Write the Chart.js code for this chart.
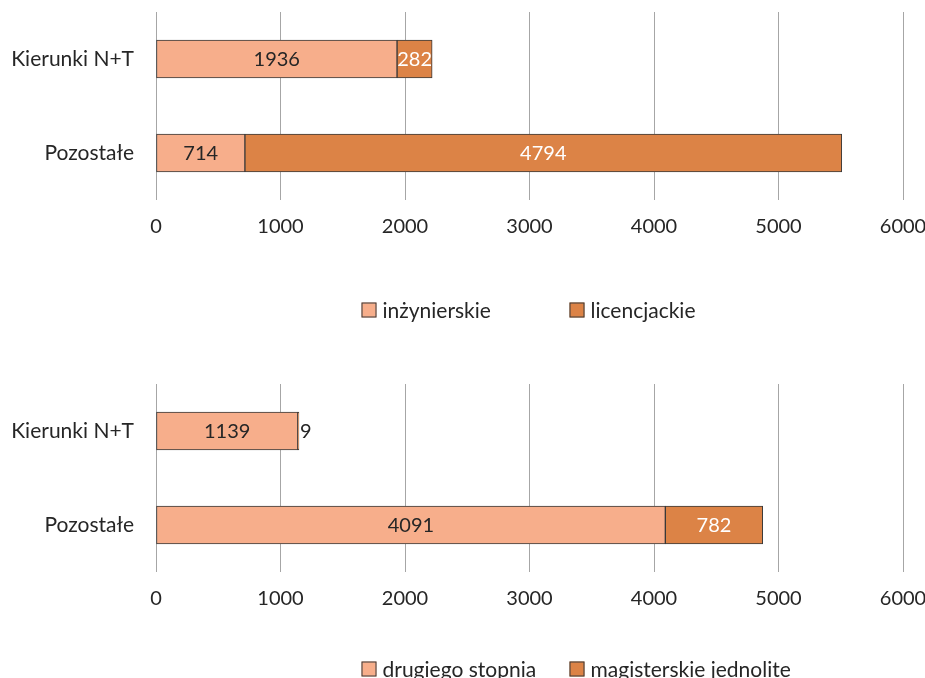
<!DOCTYPE html>
<html>
<head>
<meta charset="utf-8">
<script src="https://cdn.jsdelivr.net/npm/chart.js@4.4.1/dist/chart.umd.min.js"></script>
<style>
  html, body { margin: 0; padding: 0; background: #fff; overflow: hidden; width: 925px; height: 678px; position: relative; }
  .panel { position: absolute; left: 0; width: 925px; }
</style>
</head>
<body>
<div class="panel" style="top:0;height:340px"><canvas id="chartTop" width="925" height="340"></canvas></div>
<div class="panel" style="top:372px;height:306px"><canvas id="chartBottom" width="925" height="306"></canvas></div>
<script>
// --- Data ---
const categories = ['Kierunki N+T', 'Pozostałe'];
const xMax = 6000;
const xStep = 1000;

const topLabels = ['inżynierskie', 'licencjackie'];
const inzynierskie = [1936, 714];
const licencjackie = [282, 4794];

const bottomLabels = ['drugiego stopnia', 'magisterskie jednolite'];
const drugiegoStopnia = [1139, 4091];
const magisterskieJednolite = [9, 782];

// --- Styling ---
const FONT = 'Lato, "Open Sans", sans-serif';
const FONT_SIZE = 21;
const TEXT = '#262626';
const LIGHT = '#F7AE8B';
const DARK = '#DC8346';
const EDGE = '#3a3a3a';
const GRID = '#a6a6a6';

Chart.defaults.font.family = FONT;
Chart.defaults.font.size = FONT_SIZE;
Chart.defaults.color = TEXT;

// value labels inside the bars (or just past the end if they really don't fit)
const barLabels = {
  id: 'barLabels',
  afterDatasetsDraw(chart) {
    const ctx = chart.ctx;
    ctx.save();
    ctx.font = '20px ' + FONT;
    ctx.textBaseline = 'middle';
    chart.data.datasets.forEach((ds, i) => {
      const meta = chart.getDatasetMeta(i);
      meta.data.forEach((bar, j) => {
        const { x, y, base } = bar.getProps(['x', 'y', 'base'], true);
        const text = String(ds.data[j]);
        const w = ctx.measureText(text).width;
        if (w > Math.abs(x - base) + 6) {
          ctx.textAlign = 'left';
          ctx.fillStyle = TEXT;
          ctx.fillText(text, Math.max(x, base) + 1, y + 1);
        } else {
          ctx.textAlign = 'center';
          ctx.fillStyle = ds.labelColor;
          ctx.fillText(text, (x + base) / 2, y + 1);
        }
      });
    });
    ctx.restore();
  }
};

// legend with fixed-width columns, centred under the plot area
function boxLegend(offset) {
  return {
    id: 'boxLegend',
    afterDraw(chart) {
      const ctx = chart.ctx;
      const area = chart.chartArea;
      const colWidth = 208;
      const startX = (area.left + area.right) / 2 - 168;
      const cy = area.bottom + offset;
      ctx.save();
      ctx.font = FONT_SIZE + 'px ' + FONT;
      ctx.textBaseline = 'middle';
      ctx.textAlign = 'left';
      chart.data.datasets.forEach((ds, i) => {
        const bx = startX + i * colWidth;
        ctx.fillStyle = ds.backgroundColor;
        ctx.fillRect(bx, cy - 7.5, 15, 15);
        ctx.strokeStyle = EDGE;
        ctx.lineWidth = 1;
        ctx.strokeRect(bx + 0.5, cy - 7, 14, 14);
        ctx.fillStyle = TEXT;
        ctx.fillText(ds.label, bx + 21, cy + 1);
      });
      ctx.restore();
    }
  };
}

function makeChart(id, labels, seriesA, seriesB, axisHeight, legendOffset) {
  return new Chart(document.getElementById(id), {
    type: 'bar',
    data: {
      labels: categories,
      datasets: [
        { label: labels[0], data: seriesA, backgroundColor: LIGHT, borderColor: EDGE, borderWidth: 1, labelColor: TEXT },
        { label: labels[1], data: seriesB, backgroundColor: DARK, borderColor: EDGE, borderWidth: 1, labelColor: '#ffffff' },
      ],
    },
    options: {
      indexAxis: 'y',
      responsive: false,
      animation: false,
      layout: { padding: { top: 12, right: 22, bottom: 0, left: 0 } },
      datasets: { bar: { barThickness: 38, borderSkipped: false } },
      scales: {
        x: {
          stacked: true,
          min: 0,
          max: xMax,
          ticks: { stepSize: xStep, padding: 15, maxRotation: 0, font: { size: 20 }, callback: v => String(v) },
          grid: { color: GRID, lineWidth: 1, drawTicks: false },
          border: { display: false },
          afterFit(scale) {
            scale.height = axisHeight;
            scale.paddingLeft = 0;
            scale.paddingRight = 0;
          },
        },
        y: {
          stacked: true,
          ticks: { padding: 22 },
          grid: { display: false, drawTicks: false },
          border: { display: false },
          afterFit(scale) {
            scale.width = 156;
            scale.paddingTop = 0;
            scale.paddingBottom = 0;
          },
        },
      },
      plugins: {
        legend: { display: false },
        tooltip: { enabled: false },
      },
    },
    plugins: [barLabels, boxLegend(legendOffset)],
  });
}

makeChart('chartTop', topLabels, inzynierskie, licencjackie, 140, 110);
makeChart('chartBottom', bottomLabels, drugiegoStopnia, magisterskieJednolite, 106, 97);
</script>
</body>
</html>
